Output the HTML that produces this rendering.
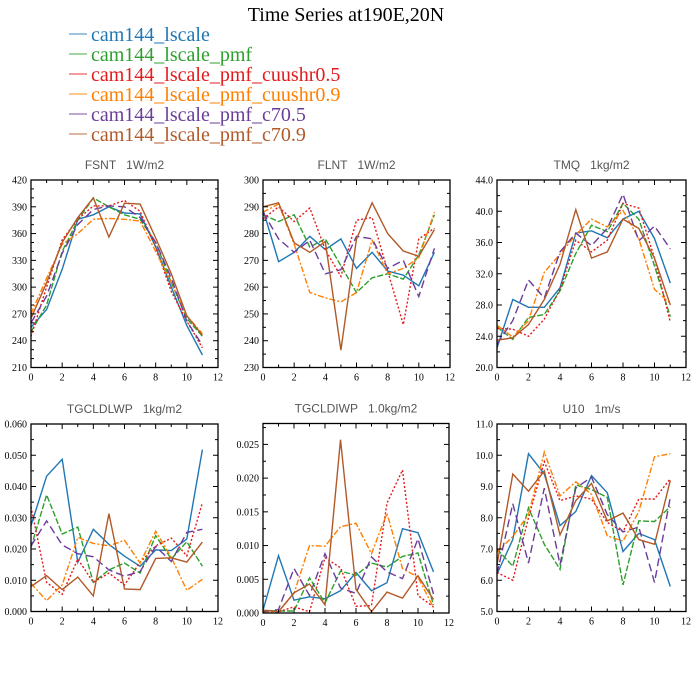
<!DOCTYPE html>
<html><head><meta charset="utf-8"><style>
body{margin:0;background:#fff;}
svg{display:block;}
</style></head><body>
<svg id="chart" width="700" height="700" xmlns="http://www.w3.org/2000/svg">
<rect width="700" height="700" fill="#fff"/>
<text x="346" y="21" font-family="Liberation Serif, serif" font-size="20" text-anchor="middle" fill="#000">Time Series at190E,20N</text>
<g id="legend"></g>
<g id="panels"></g>
</svg>
<script>
const seriesNames = ["cam144_lscale","cam144_lscale_pmf","cam144_lscale_pmf_cuushr0.5","cam144_lscale_pmf_cuushr0.9","cam144_lscale_pmf_c70.5","cam144_lscale_pmf_c70.9"];
const months = [0,1,2,3,4,5,6,7,8,9,10,11];

const fsnt = [
 [255,275,320,376,381,390,383,382,345,300,257,224],
 [250,280,340,375,400,390,381,376,350,305,265,245],
 [245,300,353,376,391,391,397,385,345,295,262,232],
 [270,310,348,360,376,377,376,374,340,305,268,248],
 [260,290,338,370,387,391,390,378,350,310,262,235],
 [265,305,350,378,400,356,394,393,355,315,268,246]];
const flnt = [
 [289,269.5,273,279,274,278,267,273,266,264.5,260.5,273],
 [287,284.5,287,275,278,268,258,263.5,265,263,272,287],
 [285.5,290,284.5,289.5,274,264,285,286,266,246,278,282],
 [288,291,276,258,256,254.5,258,277.5,265,267,271,288],
 [288,278,273,277.5,265,266.5,279,278,267,270,256.5,274.5],
 [290,291.5,276.5,273,277,236.5,278,291.5,280,273.5,271.5,281.5]];
const tmq = [
 [22.5,28.7,27.7,27.7,30.2,37.2,37.5,36.6,39,40,36.5,30.8],
 [25.2,23.6,26.4,26.8,29.8,34.6,38.2,37.4,41,39,33,26.5],
 [25,24.9,24,26.2,30,36.3,34.8,36.3,41,40.4,34,25.8],
 [25.4,23.9,26,32.2,34.5,37,39,38,40.1,36.5,30,28.2],
 [23,26,31.2,28.9,34.8,37.2,35.6,37.8,42.2,36.2,38.1,35.2],
 [23.5,23.8,25.5,28.7,33.2,40.2,34,34.8,39,37.8,34,28]];
const lwp = [
 [0.0275,0.0433,0.0487,0.0157,0.0263,0.0215,0.0177,0.0145,0.0197,0.0195,0.0232,0.0518],
 [0.0205,0.0373,0.0248,0.027,0.0093,0.0133,0.0155,0.0123,0.0243,0.0168,0.0223,0.0145],
 [0.0335,0.0093,0.0055,0.0168,0.0093,0.0123,0.0085,0.0157,0.021,0.0235,0.0178,0.0348],
 [0.009,0.0035,0.0085,0.0237,0.0218,0.021,0.0228,0.0155,0.0257,0.0173,0.0068,0.0103],
 [0.021,0.029,0.0213,0.0185,0.0175,0.0133,0.0113,0.0128,0.0208,0.016,0.0253,0.0263],
 [0.008,0.0115,0.007,0.011,0.005,0.0313,0.0072,0.007,0.017,0.0172,0.0158,0.0222]];
const iwp = [
 [0.0004,0.0085,0.0019,0.0024,0.0021,0.0033,0.006,0.0033,0.0045,0.0125,0.0119,0.0061],
 [0.0004,0.0003,0.0003,0.0052,0.0015,0.0062,0.0056,0.0074,0.0068,0.0084,0.0089,0.0012],
 [0.0003,0.0002,0.0009,0.0002,0.0082,0.0067,0.001,0.0011,0.0163,0.0212,0.0026,0.0009],
 [0.0002,0.0002,0.0029,0.01,0.0099,0.0128,0.0133,0.0088,0.0148,0.0066,0.0053,0.0008],
 [0.0002,0.0005,0.0066,0.0026,0.0088,0.0037,0.0029,0.0083,0.0061,0.0051,0.011,0.0028],
 [0.0004,0.0002,0.003,0.0043,0.0012,0.0257,0.0035,0.0002,0.0031,0.0022,0.0055,0.002]];
const u10 = [
 [6.2,7.3,10.05,9.4,7.75,8.2,9.35,8.8,6.92,7.5,7.3,5.8],
 [7,6.45,8.32,7.15,6.35,9.05,8.9,8.65,5.85,7.9,7.88,8.35],
 [6.25,6,8,9.8,8.55,8.7,8.6,7.85,7.55,8.6,8.6,9.25],
 [6.9,7.4,8.1,10.1,8.7,9.15,8.75,7.42,7.25,8.2,9.95,10.05],
 [6.2,8.45,6.55,8.95,6.5,8.95,9.3,8.1,7.55,7.7,5.93,8.65],
 [6.5,9.4,8.85,9.5,7.45,8.55,9.1,7.9,8.15,7.3,7.15,9.2]];

const fsntTicks = ["210","240","270","300","330","360","390","420"];
const flntTicks = ["230","240","250","260","270","280","290","300"];
const tmqTicks = ["20.0","24.0","28.0","32.0","36.0","40.0","44.0"];
const lwpTicks = ["0.000","0.010","0.020","0.030","0.040","0.050","0.060"];
const iwpTicks = ["0.000","0.005","0.010","0.015","0.020","0.025"];
const u10Ticks = ["5.0","6.0","7.0","8.0","9.0","10.0","11.0"];
const xTicks = ["0","2","4","6","8","10","12"];

const colors = ["#1f77b4","#2ca02c","#e41a1c","#ff7f00","#6a3d9a","#b15928"];
const dashes = ["","6,2","2,2","6,2,2,2","8,4",""];
const NS = "http://www.w3.org/2000/svg";
function mk(tag, attrs, parent){const e=document.createElementNS(NS,tag);for(const k in attrs)e.setAttribute(k,attrs[k]);parent.appendChild(e);return e;}

// legend
const leg = document.getElementById('legend');
seriesNames.forEach((n,i)=>{
  const y = 34 + i*20;
  const g = mk('g',{},leg);
  
  
  mk('line',{x1:69,x2:87,y1:y,y2:y,stroke:colors[i],'stroke-width':1.2,opacity:0.7},g);
  const t = mk('text',{x:91,y:y+7,'font-family':'Liberation Serif, serif','font-size':20,fill:colors[i]},g);
  t.textContent = n;
});

const panels = [
 {title:"FSNT   1W/m2", data:fsnt, ticks:fsntTicks, ymin:210, ymax:420, step:30, x0:31, x1:218, y0:180, y1:367.5, minor:10},
 {title:"FLNT   1W/m2", data:flnt, ticks:flntTicks, ymin:230, ymax:300, step:10, x0:263, x1:450, y0:180, y1:367.5, minor:5},
 {title:"TMQ   1kg/m2", data:tmq, ticks:tmqTicks, ymin:20, ymax:44, step:4, x0:497, x1:686, y0:180, y1:367.5, minor:2},
 {title:"TGCLDLWP   1kg/m2", data:lwp, ticks:lwpTicks, ymin:0, ymax:0.06, step:0.01, x0:31, x1:218, y0:424, y1:611.5, minor:0.005},
 {title:"TGCLDIWP   1.0kg/m2", data:iwp, ticks:iwpTicks, ymin:0, ymax:0.0281, step:0.005, x0:263, x1:449, y0:423.5, y1:613, minor:0.0025},
 {title:"U10   1m/s", data:u10, ticks:u10Ticks, ymin:5, ymax:11, step:1, x0:497, x1:686, y0:424, y1:611.5, minor:0.5}
];
const root = document.getElementById('panels');
panels.forEach((p,pi)=>{
  const g = mk('g',{},root);
  
  
  const xs = v => p.x0 + (v/12)*(p.x1-p.x0);
  const ys = v => p.y1 - (v-p.ymin)/(p.ymax-p.ymin)*(p.y1-p.y0);
  const tt = mk('text',{x:(p.x0+p.x1)/2,y:p.y0-11,'font-family':'Liberation Sans, sans-serif','font-size':12,'text-anchor':'middle',fill:'#555','xml:space':'preserve'},g);
  
  
  tt.textContent = p.title.replace(/   /,'\u00a0\u00a0\u00a0');
  // series
  p.data.forEach((s,si)=>{
    const pts = s.map((v,i)=>xs(months[i]).toFixed(1)+','+ys(v).toFixed(1)).join(' ');
    const pl = mk('polyline',{points:pts,fill:'none',stroke:colors[si],'stroke-width':1.4,'stroke-dasharray':dashes[si]},g);
    
    
  });
  // frame
  const fr = mk('rect',{x:p.x0,y:p.y0,width:p.x1-p.x0,height:p.y1-p.y0,fill:'none',stroke:'#000','stroke-width':1.3},g);
  
  
  // x ticks
  for(let v=0; v<=12; v+=0.5){
    const x=xs(v); const major=(v%2===0); const L=major?5:(v%1===0?3:0);
    if(!L) continue;
    mk('line',{x1:x,x2:x,y1:p.y1,y2:p.y1-L,stroke:'#000','stroke-width':1},g);
    mk('line',{x1:x,x2:x,y1:p.y0,y2:p.y0+L,stroke:'#000','stroke-width':1},g);
  }
  xTicks.forEach(t=>{
    const tx = mk('text',{x:xs(+t),y:p.y1+13,'font-family':'Liberation Serif, serif','font-size':10,'text-anchor':'middle',fill:'#000'},g);
    
    
    tx.textContent=t;
  });
  // y ticks
  const nMin = Math.round((p.ymax-p.ymin)/p.minor);
  for(let k=0;k<=nMin;k++){
    const v=p.ymin+k*p.minor; if(v>p.ymax+1e-9) break;
    const major = (k % Math.round(p.step/p.minor))===0; const L=major?5:3;
    const y=ys(v);
    mk('line',{x1:p.x0,x2:p.x0+L,y1:y,y2:y,stroke:'#000','stroke-width':1},g);
    mk('line',{x1:p.x1,x2:p.x1-L,y1:y,y2:y,stroke:'#000','stroke-width':1},g);
  }
  p.ticks.forEach(t=>{
    const ty = mk('text',{x:p.x0-4,y:ys(+t)+3.5,'font-family':'Liberation Serif, serif','font-size':10,'text-anchor':'end',fill:'#000'},g);
    
    
    ty.textContent=t;
  });
});
</script>
</body></html>
